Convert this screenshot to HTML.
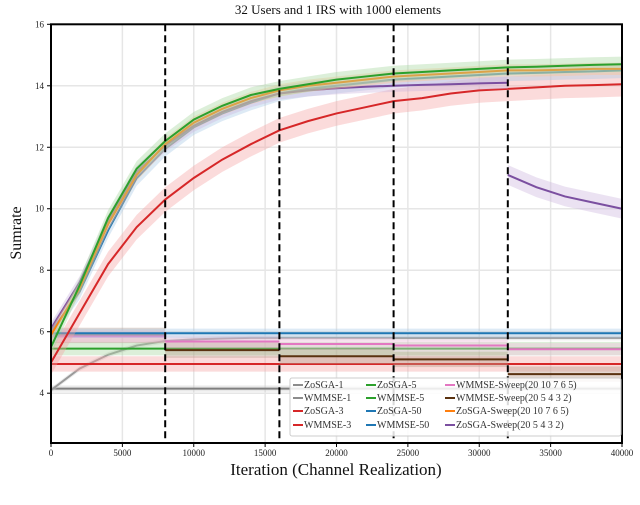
<!DOCTYPE html>
<html><head><meta charset="utf-8">
<style>
html,body{margin:0;padding:0;background:#fff;}
svg{display:block;font-family:"Liberation Serif",serif;}
</style></head>
<body>
<svg id="chart" width="640" height="505" viewBox="0 0 640 505"></svg>
<script>
// ---- data ----
const iters = [0,2000,4000,6000,8000,10000,12000,14000,16000,18000,20000,22000,24000,26000,28000,30000,32000,34000,36000,38000,40000];
const zosga5 = [5.5,7.5,9.7,11.3,12.2,12.9,13.35,13.7,13.9,14.05,14.2,14.3,14.4,14.45,14.5,14.55,14.6,14.62,14.65,14.68,14.7];
const zosgaSweepA = [5.9,7.4,9.5,11.1,12.1,12.8,13.25,13.6,13.85,14.0,14.1,14.2,14.3,14.35,14.4,14.45,14.5,14.5,14.52,14.55,14.55];
const zosga50 = [6.0,7.3,9.3,11.0,11.95,12.65,13.1,13.45,13.75,13.9,14.0,14.1,14.2,14.25,14.3,14.35,14.4,14.42,14.45,14.47,14.5];
const itersPre = [0,2000,4000,6000,8000,10000,12000,14000,16000,18000,20000,22000,24000,26000,28000,30000,32000];
const zosgaSweepBPre = [6.1,7.6,9.6,11.2,12.05,12.7,13.15,13.5,13.75,13.85,13.92,13.97,14.0,14.03,14.05,14.08,14.1];
const itersPost = [32000,34000,36000,38000,40000];
const zosgaSweepBPost = [11.1,10.7,10.4,10.2,10.0];
const zosga3 = [5.0,6.6,8.2,9.4,10.3,11.0,11.6,12.1,12.55,12.85,13.1,13.3,13.5,13.6,13.75,13.85,13.9,13.95,14.0,14.02,14.05];
const zosga1 = [4.1,4.8,5.25,5.55,5.7,5.75,5.78,5.8,5.8,5.8,5.8,5.8,5.8,5.8,5.8,5.8,5.8,5.8,5.8,5.8,5.8];
const wmmse50 = [5.95,5.95,5.95,5.95,5.95,5.95,5.95,5.95,5.95,5.95,5.95,5.95,5.95,5.95,5.95,5.95,5.95,5.95,5.95,5.95,5.95];
const wmmse5 = [5.45,5.45,5.45,5.45,5.45,5.45,5.45,5.45,5.45,5.45,5.45,5.45,5.45,5.45,5.45,5.45,5.45,5.45,5.45,5.45,5.45];
const wmmse3 = [4.95,4.95,4.95,4.95,4.95,4.95,4.95,4.95,4.95,4.95,4.95,4.95,4.95,4.95,4.95,4.95,4.95,4.95,4.95,4.95,4.95];
const wmmse1 = [4.15,4.15,4.15,4.15,4.15,4.15,4.15,4.15,4.15,4.15,4.15,4.15,4.15,4.15,4.15,4.15,4.15,4.15,4.15,4.15,4.15];
const sweepStarts = [0,8000,16000,24000,32000];
const wmmseSweepA = [5.85,5.68,5.6,5.55,5.43];
const wmmseSweepB = [5.88,5.4,5.2,5.1,4.62];
const xTicks = [0,5000,10000,15000,20000,25000,30000,35000,40000];
const yTicks = [4,6,8,10,12,14,16];
const switchPoints = [8000,16000,24000,32000];

// ---- axes ----
const L=51,R=622,T=24.3,B=443,XMAX=40000,YMIN=2.38,YMAX=16;
const X=v=>L+(v/XMAX)*(R-L);
const Y=v=>B-(v-YMIN)/(YMAX-YMIN)*(B-T);
const svg=document.getElementById('chart');
const NS='http://www.w3.org/2000/svg';
function mk(tag,attrs,parent){const e=document.createElementNS(NS,tag);for(const k in attrs)e.setAttribute(k,attrs[k]);(parent||svg).appendChild(e);return e;}

// grid
const grid=mk('g',{});


xTicks.forEach(t=>mk('line',{x1:X(t),x2:X(t),y1:T,y2:B,stroke:'#e6e6e6','stroke-width':1.5},grid));
yTicks.forEach(t=>mk('line',{x1:L,x2:R,y1:Y(t),y2:Y(t),stroke:'#e6e6e6','stroke-width':1.5},grid));

function bandPath(xs,ys,w){
  let up=xs.map((x,i)=>X(x)+','+Y(ys[i]+w)).join(' L');
  let dn=xs.map((x,i)=>X(x)+','+Y(ys[i]-w)).reverse().join(' L');
  return 'M'+up+' L'+dn+'Z';
}
function series(name,xs,ys,color,w,light){
  const g=mk('g',{});
  
  
  mk('path',{d:bandPath(xs,ys,w),fill:light,'fill-opacity':0.4,stroke:'none'},g);
  mk('polyline',{points:xs.map((x,i)=>X(x)+','+Y(ys[i])).join(' '),fill:'none',stroke:color,'stroke-width':2},g);
}
function stepSeries(name,starts,vals,color,w,light){
  const g=mk('g',{});
  
  
  starts.forEach((s,i)=>{
    const e=i+1<starts.length?starts[i+1]:XMAX;
    mk('rect',{x:X(s),y:Y(vals[i]+w),width:X(e)-X(s),height:Y(vals[i]-w)-Y(vals[i]+w),fill:light,'fill-opacity':0.4},g);
    mk('line',{x1:X(s),x2:X(e),y1:Y(vals[i]),y2:Y(vals[i]),stroke:color,'stroke-width':2},g);
  });
}
series('wmmse-1-line',iters,wmmse1,'#7f7f7f',0.1,'#c8c8c8');
series('zosga-1-line',iters,zosga1,'#9a9a9a',0.08,'#d0d0d0');
series('wmmse-3-line',iters,wmmse3,'#d62728',0.25,'#f4a6a6');
series('wmmse-5-line',iters,wmmse5,'#2ca02c',0.22,'#a8d8a0');
stepSeries('wmmse-sweep-b-line',sweepStarts,wmmseSweepB,'#5a3210',0.25,'#b89a8a');
stepSeries('wmmse-sweep-a-line',sweepStarts,wmmseSweepA,'#e377c2',0.2,'#f2c0de');
series('wmmse-50-line',iters,wmmse50,'#1f77b4',0.15,'#a9cbe6');
series('zosga-3-line',iters,zosga3,'#d62728',0.4,'#f4a6a6');
series('zosga-50-line',iters,zosga50,'#1f77b4',0.25,'#a9cbe6');
series('zosga-sweep-b-line',itersPre,zosgaSweepBPre,'#7b4fa0',0.2,'#cdb6de');
series('zosga-sweep-b-line-after',itersPost,zosgaSweepBPost,'#7b4fa0',0.32,'#cdb6de');
series('zosga-sweep-a-line',iters,zosgaSweepA,'#ff7f0e',0.2,'#ffc48e');
series('zosga-5-line',iters,zosga5,'#2ca02c',0.25,'#a8d8a0');

// dashed switch lines
switchPoints.forEach(s=>{
  const l=mk('line',{x1:X(s),x2:X(s),y1:T,y2:B,stroke:'#000','stroke-width':2,'stroke-dasharray':'7,4'});
  
  
});

// frame
const fr=mk('rect',{x:L,y:T,width:R-L,height:B-T,fill:'none',stroke:'#000','stroke-width':2});



// ticks
xTicks.forEach(t=>{
  mk('line',{x1:X(t),x2:X(t),y1:B,y2:B+4,stroke:'#000','stroke-width':1});
  const tx=mk('text',{x:X(t),y:B+13,'font-size':9,'text-anchor':'middle',fill:'#222'});
  tx.textContent=t;
  
  
});
yTicks.forEach(t=>{
  mk('line',{x1:L-4,x2:L,y1:Y(t),y2:Y(t),stroke:'#000','stroke-width':1});
  const tx=mk('text',{x:L-7,y:Y(t)+3,'font-size':9,'text-anchor':'end',fill:'#222'});
  tx.textContent=t;
  
  
});

// legend
const lg=mk('g',{});


mk('rect',{x:290,y:378,width:331,height:58,fill:'#fff','fill-opacity':0.85,stroke:'#ccc','stroke-width':1,rx:2},lg);
const legendItems=[
 ['ZoSGA-1','#8c8c8c',293,388],['WMMSE-1','#8c8c8c',293,401],['ZoSGA-3','#d62728',293,414],['WMMSE-3','#d62728',293,428],
 ['ZoSGA-5','#2ca02c',366,388],['WMMSE-5','#2ca02c',366,401],['ZoSGA-50','#1f77b4',366,414],['WMMSE-50','#1f77b4',366,428],
 ['WMMSE-Sweep(20 10 7 6 5)','#e377c2',445,388],['WMMSE-Sweep(20 5 4 3 2)','#5a3210',445,401],['ZoSGA-Sweep(20 10 7 6 5)','#ff7f0e',445,414],['ZoSGA-Sweep(20 5 4 3 2)','#7b4fa0',445,428]
];
legendItems.forEach(([lab,c,x,y])=>{
  const e=mk('g',{},lg);
  
  
  mk('line',{x1:x,x2:x+10,y1:y-3,y2:y-3,stroke:c,'stroke-width':2},e);
  const t=mk('text',{x:x+11,y:y,'font-size':10,fill:'#333'},e);
  t.textContent=lab;
});

// titles
const title=mk('text',{x:338,y:14,'font-size':13,'text-anchor':'middle',fill:'#111'});
title.textContent='32 Users and 1 IRS with 1000 elements';


const xl=mk('text',{x:336,y:475,'font-size':17,'text-anchor':'middle',fill:'#111'});
xl.textContent='Iteration (Channel Realization)';


const yl=mk('text',{x:0,y:0,'font-size':16,'text-anchor':'middle',fill:'#111',transform:'translate(21,233) rotate(-90)'});
yl.textContent='Sumrate';


</script>
</body></html>
